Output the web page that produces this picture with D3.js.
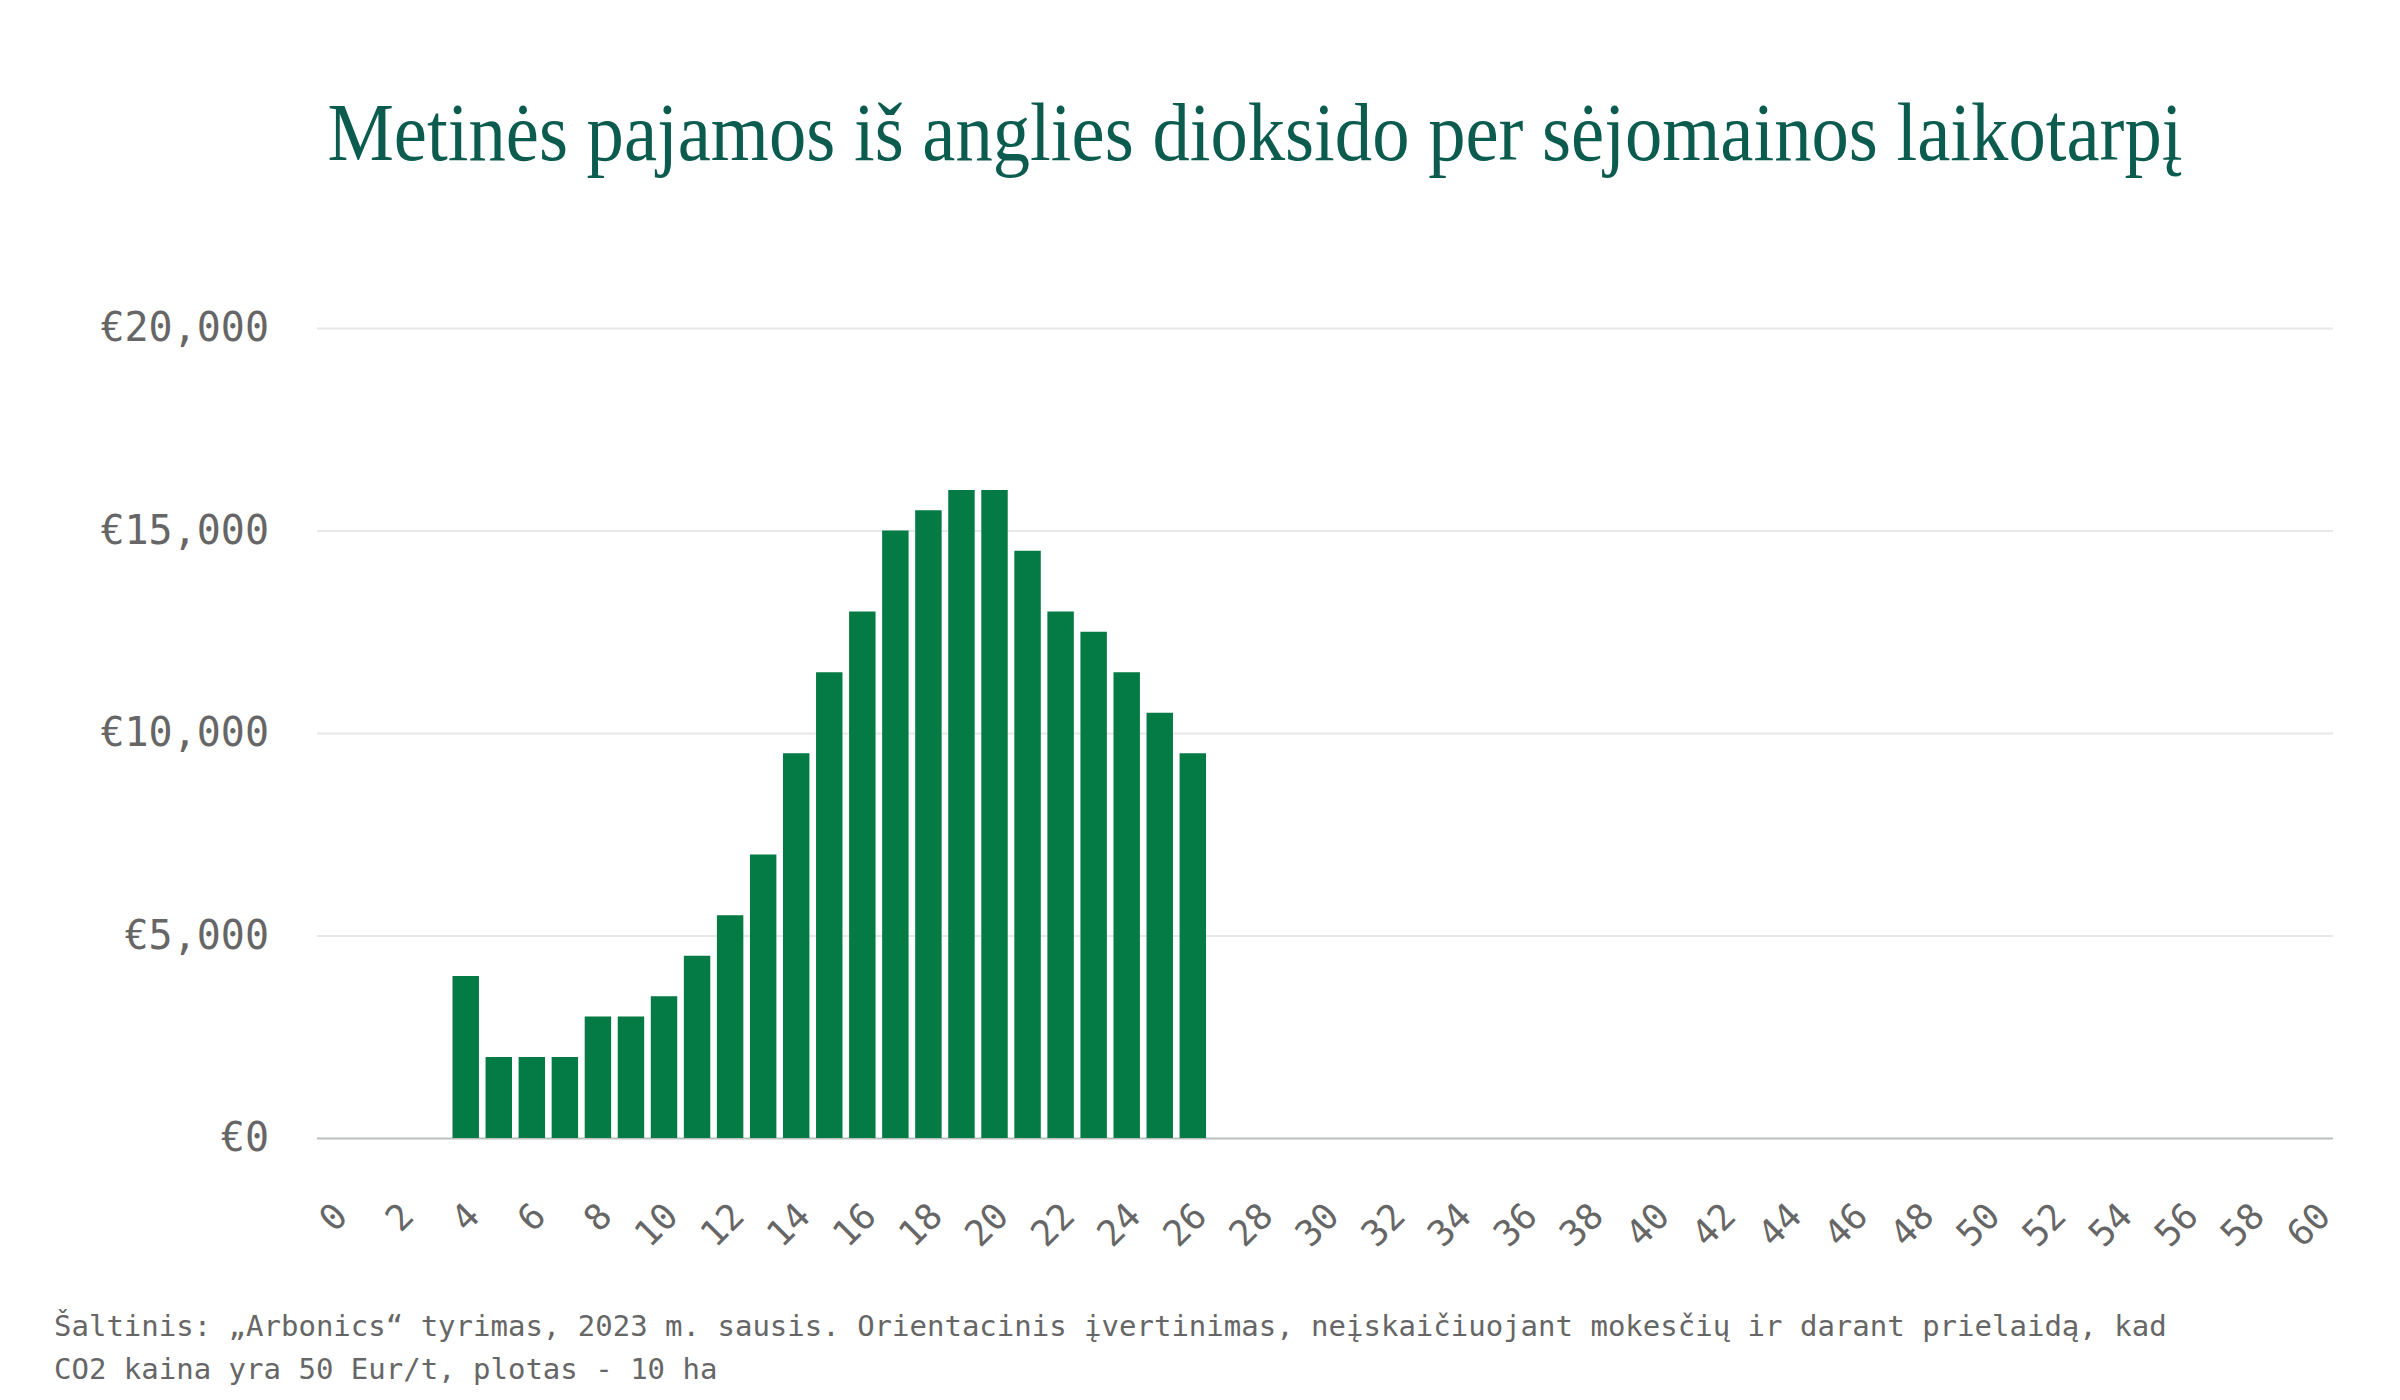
<!DOCTYPE html>
<html><head><meta charset="utf-8">
<script src="https://cdn.jsdelivr.net/npm/d3@7"></script>
<style>body{margin:0;background:#fff}</style></head>
<body><svg id="c" width="2400" height="1400"></svg>
<script>
const years = d3.range(0, 61);
const values = [0,0,0,0,4000,2000,2000,2000,3000,3000,3500,4500,5500,7000,9500,11500,13000,15000,15500,16000,16000,14500,13000,12500,11500,10500,9500];
const yTicks = [0,5000,10000,15000,20000];
const title = "Metinės pajamos iš anglies dioksido per sėjomainos laikotarpį";
const source = ["Šaltinis: „Arbonics“ tyrimas, 2023 m. sausis. Orientacinis įvertinimas, neįskaičiuojant mokesčių ir darant prielaidą, kad",
  "CO2 kaina yra 50 Eur/t, plotas - 10 ha"];

const svg = d3.select("#c");
const L=317,R=2333,T=328,B=1138;
const x = d3.scaleBand().domain(years).range([L,R]).paddingInner(0.2).paddingOuter(0.1);
const y = d3.scaleLinear().domain([0,20000]).range([B,T]);
const mono = "'DejaVu Sans Mono', monospace";

svg.append("text").attr("x",1255).attr("y",160).attr("text-anchor","middle")
  .attr("font-family","'Liberation Serif', serif").attr("font-size",82).attr("fill","#0b5c4f")
  .attr("textLength",1855).attr("lengthAdjust","spacingAndGlyphs").text(title);

const ya = svg.append("g").attr("transform",`translate(${L},0)`)
  .call(d3.axisLeft(y).tickValues(yTicks).tickSize(-(R-L)).tickFormat(d=>"€"+d3.format(",")(d)));
ya.select(".domain").remove();
ya.selectAll(".tick line").attr("stroke",d=>d===0?"#b8bfbd":"#e8e8e8").attr("stroke-width",2);
ya.selectAll(".tick text").attr("x",-48).attr("font-family",mono).attr("font-size",40).attr("fill","#666");

svg.append("g").selectAll("rect").data(values.map((v,i)=>({yr:i,v}))).join("rect")
  .attr("x",d=>x(d.yr)).attr("width",x.bandwidth()).attr("y",d=>y(d.v)).attr("height",d=>B-y(d.v))
  .attr("fill","#047a45");

const xa = svg.append("g").attr("transform",`translate(0,${B})`)
  .call(d3.axisBottom(x).tickValues(years.filter(d=>d%2===0)).tickSize(0));
xa.select(".domain").remove();
xa.selectAll(".tick text").attr("font-family",mono).attr("font-size",36).attr("fill","#666")
  .attr("text-anchor","end").attr("dy",0).attr("transform","translate(14,78) rotate(-45)");

svg.append("g").selectAll("text").data(source).join("text")
  .attr("x",54).attr("y",(d,i)=>1336+i*43).attr("font-family",mono).attr("font-size",29).attr("fill","#666").text(d=>d);
</script></body></html>
